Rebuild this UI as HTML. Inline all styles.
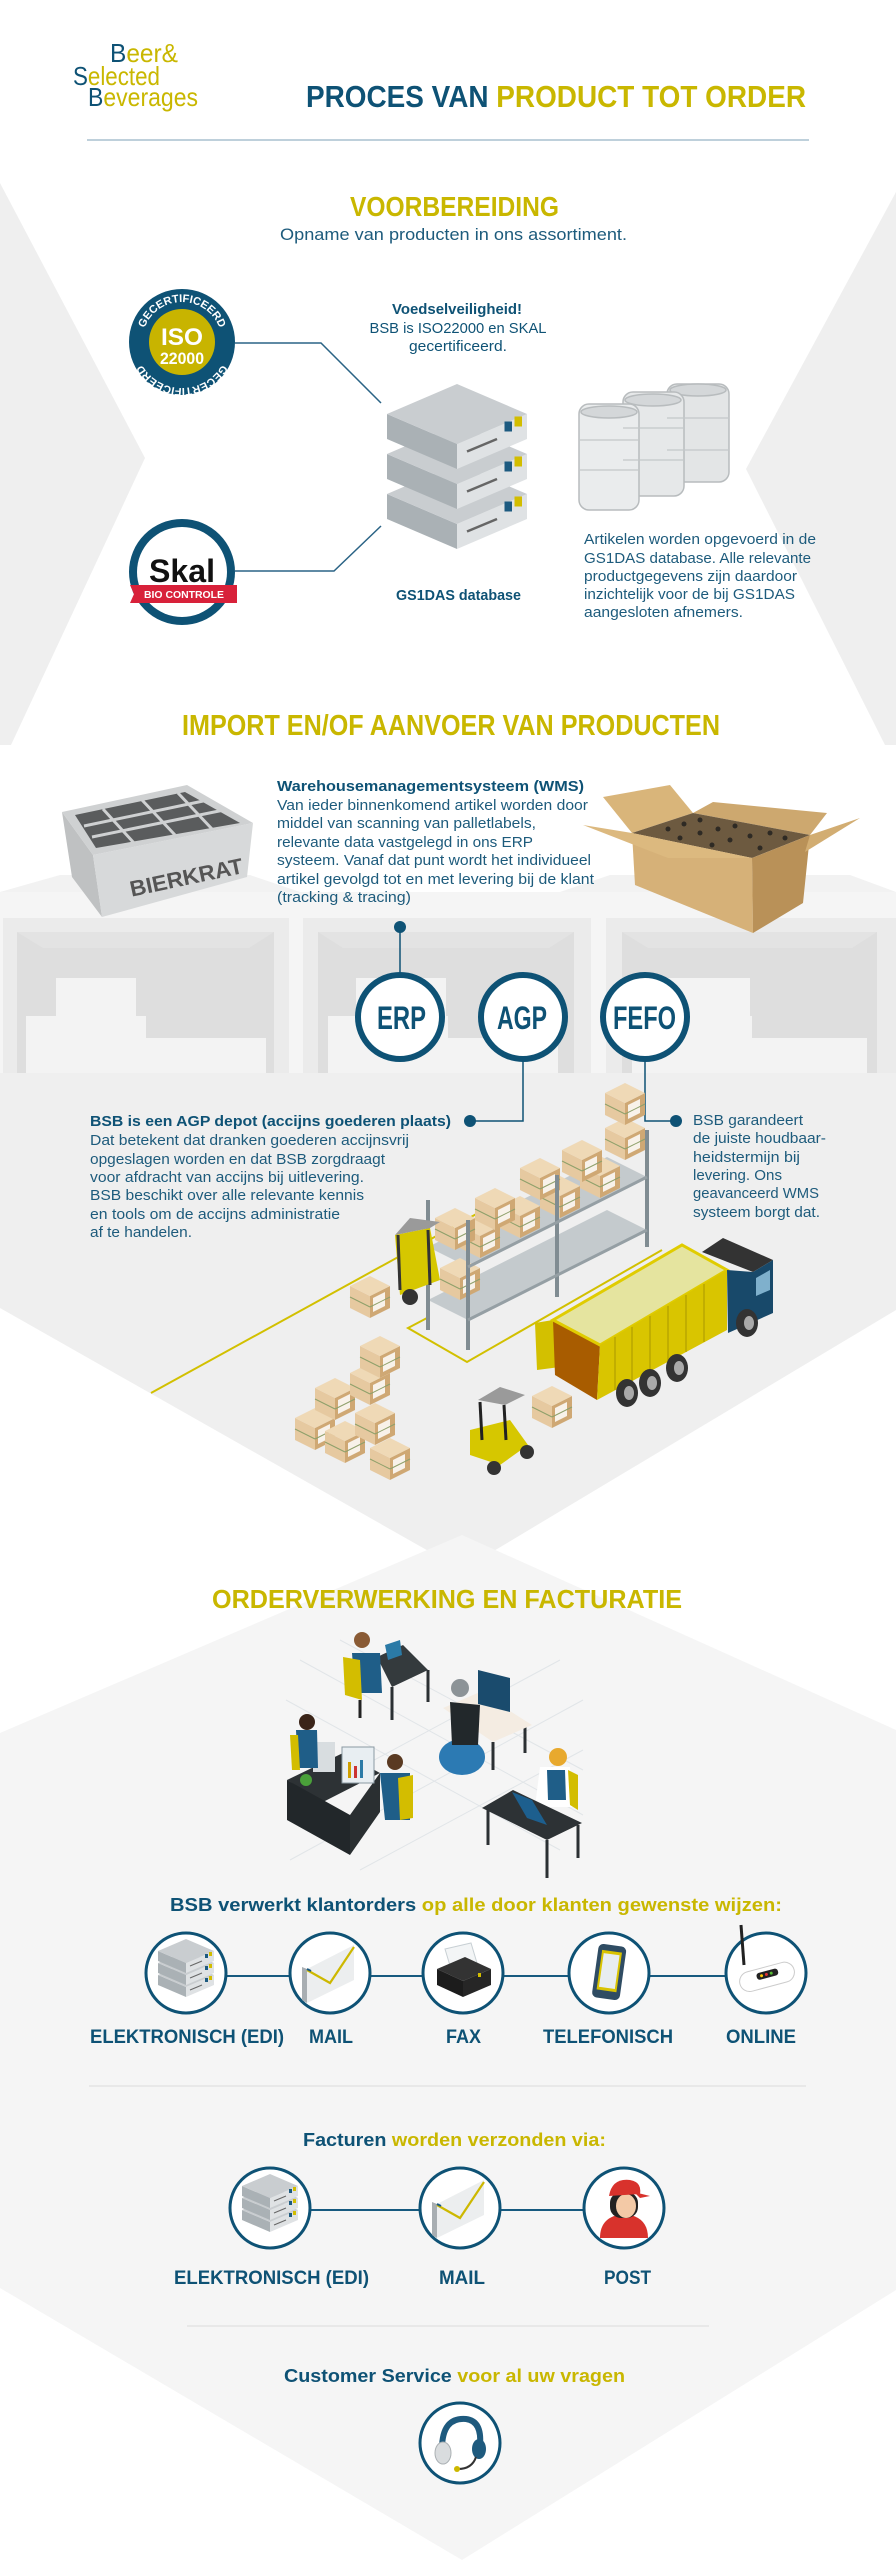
<!DOCTYPE html>
<html><head><meta charset="utf-8"><style>
html,body{margin:0;padding:0;background:#fff;}
svg{display:block;}
text{font-family:"Liberation Sans",sans-serif;}
</style></head><body>
<svg xmlns="http://www.w3.org/2000/svg" width="896" height="2560" viewBox="0 0 896 2560">
<defs>
<g id="box">
<polygon points="-20,-10 0,0 0,-22 -20,-32" fill="#e6c9a0"/>
<polygon points="0,0 20,-10 20,-32 0,-22" fill="#cfa874"/>
<polygon points="0,-22 -20,-32 0,-42 20,-32" fill="#efd9b6"/>
<polygon points="3,-6 15,-12 15,-26 3,-20" fill="#fff" opacity="0.85"/>
<line x1="-20" y1="-21" x2="0" y2="-11" stroke="#8ea06a" stroke-width="1"/>
<line x1="0" y1="-11" x2="20" y2="-21" stroke="#8ea06a" stroke-width="1"/>
</g>
<g id="slab">
<polygon points="-28,-18 0,-6 0,4 -28,-8" fill="#aab1b5"/>
<polygon points="0,-6 28,-18 28,-8 0,4" fill="#dfe2e4"/>
<polygon points="-28,-18 0,-30 28,-18 0,-6" fill="#c9cdd0"/>
<line x1="4" y1="-3" x2="16" y2="-8" stroke="#666" stroke-width="1"/>
<rect x="19" y="-15" width="3" height="4" fill="#1c5a80"/>
<rect x="23" y="-17" width="3" height="4" fill="#d2bd00"/>
</g>
<g id="srvS">
<use href="#slab" y="20"/><use href="#slab" y="8"/><use href="#slab" y="-4"/>
</g>
<g id="env">
<polygon points="-28,-8 -23,-6 -23,28 -28,25" fill="#a8aeb2"/>
<polygon points="-23,-6 24,-30 24,5 -23,28" fill="#eceeef"/>
<polyline points="-23,-5 0,8 24,-28" fill="none" stroke="#cdb800" stroke-width="2.2"/>
<line x1="-23" y1="-6" x2="-19" y2="-4" stroke="#1c5a80" stroke-width="2"/>
</g>
</defs>

<rect width="896" height="2560" fill="#fff"/>
<polygon points="0,183 145,458 11,745 0,745" fill="#efefef"/>
<polygon points="896,192 746,469 885,745 896,745" fill="#efefef"/>
<polygon points="0,892 60,875 250,875 300,892 560,892 610,875 850,875 896,892" fill="#f2f2f2"/>
<rect x="0" y="892" width="896" height="181" fill="#f5f5f5"/>
<g fill="#ebebeb"><rect x="3" y="918" width="286" height="155"/><rect x="303" y="918" width="288" height="155"/><rect x="606" y="918" width="290" height="155"/></g>
<g fill="#dedede"><rect x="17" y="932" width="257" height="141"/><rect x="318" y="932" width="256" height="141"/><rect x="622" y="932" width="255" height="141"/></g>
<g fill="#e3e3e3"><polygon points="17,932 43,948 249,948 274,932"/><polygon points="318,932 343,948 549,948 574,932"/><polygon points="622,932 648,948 852,948 877,932"/></g>
<g fill="#f3f3f3">
<rect x="56" y="978" width="80" height="95"/><rect x="26" y="1016" width="120" height="57"/><rect x="146" y="1038" width="120" height="35"/>
<rect x="356" y="978" width="90" height="95"/><rect x="328" y="1016" width="120" height="57"/><rect x="448" y="1038" width="110" height="35"/>
<rect x="660" y="978" width="90" height="95"/><rect x="632" y="1016" width="120" height="57"/><rect x="752" y="1038" width="115" height="35"/>
</g>
<polygon points="0,1073 896,1073 896,1310 462,1570 0,1308" fill="#efefef"/>
<polygon points="462,1535 896,1730 896,2290 462,2560 0,2288 0,1733" fill="#f5f5f5"/>

<text x="110" y="62" font-size="26" textLength="68" lengthAdjust="spacingAndGlyphs" fill="#c9b700"><tspan fill="#0e5275">B</tspan>eer&amp;</text>
<text x="73" y="85" font-size="26" textLength="87" lengthAdjust="spacingAndGlyphs" fill="#c9b700"><tspan fill="#0e5275">S</tspan>elected</text>
<text x="88" y="106" font-size="26" textLength="110" lengthAdjust="spacingAndGlyphs" fill="#c9b700"><tspan fill="#0e5275">B</tspan>everages</text>
<text x="306" y="107" font-size="31" font-weight="bold" textLength="500" lengthAdjust="spacingAndGlyphs" fill="#0e5275">PROCES VAN <tspan fill="#c9b700">PRODUCT TOT ORDER</tspan></text>
<line x1="87" y1="140" x2="809" y2="140" stroke="#a9c0cf" stroke-width="1.5"/>

<text x="350" y="216" font-size="28" font-weight="bold" textLength="209" lengthAdjust="spacingAndGlyphs" fill="#c9b700">VOORBEREIDING</text>
<text x="280" y="240" font-size="17" textLength="347" lengthAdjust="spacingAndGlyphs" fill="#1d5b7c">Opname van producten in ons assortiment.</text>

<polyline points="235,343 321,343 381,403" fill="none" stroke="#2a6385" stroke-width="1.5"/>
<polyline points="235,571 334,571 381,526" fill="none" stroke="#2a6385" stroke-width="1.5"/>

<circle cx="182" cy="342" r="53" fill="#0e5275"/>
<circle cx="182" cy="342" r="33" fill="#c8b400"/>
<path id="isoTop" d="M142,342 A40,40 0 0 1 222,342" fill="none"/>
<path id="isoBot" d="M228,342 A46,46 0 0 1 136,342" fill="none"/>
<text font-size="11" font-weight="bold" fill="#fff"><textPath href="#isoTop" startOffset="50%" text-anchor="middle">GECERTIFICEERD</textPath></text>
<text font-size="11" font-weight="bold" fill="#fff"><textPath href="#isoBot" startOffset="50%" text-anchor="middle">GECERTIFICEERD</textPath></text>
<text x="182" y="345" font-size="24" font-weight="bold" fill="#fff" text-anchor="middle" textLength="42" lengthAdjust="spacingAndGlyphs">ISO</text>
<text x="182" y="364" font-size="17" font-weight="bold" fill="#fff" text-anchor="middle" textLength="44" lengthAdjust="spacingAndGlyphs">22000</text>

<circle cx="182" cy="572" r="53" fill="#0e5275"/>
<circle cx="182" cy="572" r="45" fill="#fff"/>
<text x="182" y="582" font-size="32" font-weight="bold" fill="#111" text-anchor="middle" textLength="66" lengthAdjust="spacingAndGlyphs">Skal</text>
<polygon points="130,585 237,585 237,603 130,603 134,594" fill="#d8213a"/>
<text x="184" y="598" font-size="10" font-weight="bold" fill="#fff" text-anchor="middle" textLength="80" lengthAdjust="spacingAndGlyphs">BIO CONTROLE</text>

<text x="457" y="314" font-size="15" font-weight="bold" fill="#0e5275" text-anchor="middle" textLength="130" lengthAdjust="spacingAndGlyphs">Voedselveiligheid!</text>
<text x="458" y="333" font-size="15" fill="#0e5275" text-anchor="middle" textLength="177" lengthAdjust="spacingAndGlyphs">BSB is ISO22000 en SKAL</text>
<text x="458" y="351" font-size="15" fill="#0e5275" text-anchor="middle" textLength="98" lengthAdjust="spacingAndGlyphs">gecertificeerd.</text>

<g transform="translate(457,459) scale(2.5,2.5)">
<use href="#slab" y="32"/><use href="#slab" y="16"/><use href="#slab" y="0"/>
</g>
<text x="396" y="600" font-size="15" font-weight="bold" fill="#0e5275" textLength="125" lengthAdjust="spacingAndGlyphs">GS1DAS database</text>

<g stroke="#b8bcbe" stroke-width="1.5">
<rect x="667" y="384" width="62" height="98" rx="10" fill="#e3e5e6"/>
<ellipse cx="698" cy="390" rx="28" ry="6" fill="#d4d7d9"/>
<rect x="623" y="392" width="61" height="104" rx="10" fill="#e6e8e9"/>
<ellipse cx="653" cy="400" rx="28" ry="6" fill="#d4d7d9"/>
<rect x="579" y="404" width="60" height="106" rx="10" fill="#eaeced"/>
<ellipse cx="609" cy="412" rx="28" ry="6" fill="#d4d7d9"/>
</g>
<g stroke="#c3c7c9" stroke-width="1.2" fill="none">
<line x1="579" y1="440" x2="639" y2="440"/><line x1="579" y1="470" x2="639" y2="470"/>
<line x1="623" y1="428" x2="684" y2="428"/><line x1="623" y1="460" x2="684" y2="460"/>
<line x1="667" y1="418" x2="729" y2="418"/><line x1="667" y1="450" x2="729" y2="450"/>
</g>

<g font-size="15" fill="#1d5b7c">
<text x="584" y="544" textLength="232" lengthAdjust="spacingAndGlyphs">Artikelen worden opgevoerd in de</text>
<text x="584" y="563" textLength="227" lengthAdjust="spacingAndGlyphs">GS1DAS database. Alle relevante</text>
<text x="584" y="581" textLength="213" lengthAdjust="spacingAndGlyphs">productgegevens zijn daardoor</text>
<text x="584" y="599" textLength="211" lengthAdjust="spacingAndGlyphs">inzichtelijk voor de bij GS1DAS</text>
<text x="584" y="617" textLength="159" lengthAdjust="spacingAndGlyphs">aangesloten afnemers.</text>
</g>

<text x="182" y="735" font-size="29" font-weight="bold" textLength="538" lengthAdjust="spacingAndGlyphs" fill="#c9b700">IMPORT EN/OF AANVOER VAN PRODUCTEN</text>

<polygon points="62,812 93,855 102,917 72,877" fill="#bfc1c2"/>
<polygon points="93,855 253,823 247,877 102,917" fill="#d7d9da"/>
<polygon points="62,812 187,785 253,823 93,855" fill="#cfd1d2"/>
<polygon points="75,815 185,792 240,823 96,848" fill="#5a5c5d"/>
<g stroke="#cfd1d2" stroke-width="3">
<line x1="103" y1="809" x2="134" y2="843"/><line x1="142" y1="800" x2="175" y2="835"/><line x1="178" y1="793" x2="212" y2="829"/>
<line x1="84" y1="826" x2="208" y2="800"/><line x1="92" y1="837" x2="224" y2="810"/>
</g>
<text x="186" y="885" font-family="Liberation Serif,serif" font-size="22" font-weight="bold" fill="#555" text-anchor="middle" transform="rotate(-12 186 876)" textLength="115" lengthAdjust="spacingAndGlyphs">BIERKRAT</text>

<polygon points="603,797 670,785 693,813 632,833" fill="#d9b57a"/>
<polygon points="693,813 713,802 827,813 810,835" fill="#cda86f"/>
<polygon points="632,833 693,813 810,835 752,858" fill="#6d5a40"/>
<polygon points="632,833 752,858 753,933 635,885" fill="#d6b178"/>
<polygon points="752,858 810,835 803,903 753,933" fill="#b99158"/>
<polygon points="583,825 632,833 752,858 668,858" fill="#dcb97f"/>
<polygon points="810,835 860,818 805,852" fill="#d2ad72"/>
<g fill="#2e2a24"><circle cx="668" cy="829" r="2.5"/><circle cx="684" cy="824" r="2.5"/><circle cx="700" cy="820" r="2.5"/><circle cx="680" cy="838" r="2.5"/><circle cx="700" cy="833" r="2.5"/><circle cx="718" cy="829" r="2.5"/><circle cx="735" cy="826" r="2.5"/><circle cx="712" cy="845" r="2.5"/><circle cx="730" cy="840" r="2.5"/><circle cx="750" cy="836" r="2.5"/><circle cx="770" cy="833" r="2.5"/><circle cx="760" cy="848" r="2.5"/><circle cx="785" cy="838" r="2.5"/></g>

<g font-size="15" fill="#1d5b7c">
<text x="277" y="791" font-weight="bold" fill="#0e5275" textLength="307" lengthAdjust="spacingAndGlyphs">Warehousemanagementsysteem (WMS)</text>
<text x="277" y="810" textLength="311" lengthAdjust="spacingAndGlyphs">Van ieder binnenkomend artikel worden door</text>
<text x="277" y="828" textLength="259" lengthAdjust="spacingAndGlyphs">middel van scanning van palletlabels,</text>
<text x="277" y="847" textLength="256" lengthAdjust="spacingAndGlyphs">relevante data vastgelegd in ons ERP</text>
<text x="277" y="865" textLength="314" lengthAdjust="spacingAndGlyphs">systeem. Vanaf dat punt wordt het individueel</text>
<text x="277" y="884" textLength="317" lengthAdjust="spacingAndGlyphs">artikel gevolgd tot en met levering bij de klant</text>
<text x="277" y="902" textLength="134" lengthAdjust="spacingAndGlyphs">(tracking &amp; tracing)</text>
</g>

<circle cx="400" cy="927" r="6" fill="#0e5275"/>
<line x1="400" y1="927" x2="400" y2="975" stroke="#0e5275" stroke-width="1.5"/>
<polyline points="523,1060 523,1121 470,1121" fill="none" stroke="#0e5275" stroke-width="1.5"/>
<circle cx="470" cy="1121" r="6" fill="#0e5275"/>
<polyline points="645,1060 645,1121 676,1121" fill="none" stroke="#0e5275" stroke-width="1.5"/>
<circle cx="676" cy="1121" r="6" fill="#0e5275"/>
<g fill="#fff" stroke="#0e5275" stroke-width="6">
<circle cx="400" cy="1017" r="42"/><circle cx="523" cy="1017" r="42"/><circle cx="645" cy="1017" r="42"/>
</g>
<g font-size="32" font-weight="bold" fill="#0e5275">
<text x="377" y="1029" textLength="49" lengthAdjust="spacingAndGlyphs">ERP</text>
<text x="497" y="1029" textLength="50" lengthAdjust="spacingAndGlyphs">AGP</text>
<text x="613" y="1029" textLength="63" lengthAdjust="spacingAndGlyphs">FEFO</text>
</g>

<g font-size="15" fill="#1d5b7c">
<text x="90" y="1126" font-weight="bold" fill="#0e5275" textLength="361" lengthAdjust="spacingAndGlyphs">BSB is een AGP depot (accijns goederen plaats)</text>
<text x="90" y="1145" textLength="319" lengthAdjust="spacingAndGlyphs">Dat betekent dat dranken goederen accijnsvrij</text>
<text x="90" y="1164" textLength="295" lengthAdjust="spacingAndGlyphs">opgeslagen worden en dat BSB zorgdraagt</text>
<text x="90" y="1182" textLength="274" lengthAdjust="spacingAndGlyphs">voor afdracht van accijns bij uitlevering.</text>
<text x="90" y="1200" textLength="274" lengthAdjust="spacingAndGlyphs">BSB beschikt over alle relevante kennis</text>
<text x="90" y="1219" textLength="250" lengthAdjust="spacingAndGlyphs">en tools om de accijns administratie</text>
<text x="90" y="1237" textLength="102" lengthAdjust="spacingAndGlyphs">af te handelen.</text>
<text x="693" y="1125" textLength="110" lengthAdjust="spacingAndGlyphs">BSB garandeert</text>
<text x="693" y="1143" textLength="133" lengthAdjust="spacingAndGlyphs">de juiste houdbaar-</text>
<text x="693" y="1162" textLength="107" lengthAdjust="spacingAndGlyphs">heidstermijn bij</text>
<text x="693" y="1180" textLength="89" lengthAdjust="spacingAndGlyphs">levering. Ons</text>
<text x="693" y="1198" textLength="126" lengthAdjust="spacingAndGlyphs">geavanceerd WMS</text>
<text x="693" y="1217" textLength="127" lengthAdjust="spacingAndGlyphs">systeem borgt dat.</text>
</g>

<g fill="none" stroke="#d2c000" stroke-width="2">
<line x1="151" y1="1393" x2="480" y2="1212"/>
<polyline points="427,1318 408,1328 467,1362 662,1250"/>
</g>
<polygon points="428,1300 468,1320 647,1230 607,1210" fill="#c4cacd"/>
<polygon points="428,1247 468,1267 647,1177 607,1157" fill="#c4cacd"/>
<use href="#box" x="480" y="1258"/><use href="#box" x="520" y="1238"/><use href="#box" x="560" y="1218"/><use href="#box" x="600" y="1198"/><use href="#box" x="460" y="1300"/>
<use href="#box" x="455" y="1250"/><use href="#box" x="495" y="1230"/><use href="#box" x="540" y="1200"/><use href="#box" x="582" y="1182"/><use href="#box" x="625" y="1160"/><use href="#box" x="625" y="1125"/>
<g stroke="#808c92" stroke-width="4">
<line x1="428" y1="1200" x2="428" y2="1330"/><line x1="468" y1="1220" x2="468" y2="1350"/><line x1="557" y1="1175" x2="557" y2="1297"/><line x1="647" y1="1130" x2="647" y2="1247"/>
</g>
<g stroke="#959fa4" stroke-width="3"><line x1="468" y1="1320" x2="647" y2="1230"/><line x1="468" y1="1267" x2="647" y2="1177"/></g>

<polygon points="395,1235 430,1228 440,1280 400,1295" fill="#d6c700"/>
<polygon points="395,1235 410,1218 440,1222 430,1228" fill="#9a9a9a"/>
<line x1="398" y1="1235" x2="400" y2="1290" stroke="#333" stroke-width="3"/>
<line x1="428" y1="1230" x2="430" y2="1285" stroke="#333" stroke-width="3"/>
<circle cx="410" cy="1297" r="8" fill="#333"/>
<use href="#box" x="370" y="1318"/>

<polygon points="535,1323 553,1320 560,1367 537,1370" fill="#d3c000"/>
<polygon points="553,1320 600,1345 597,1400 555,1375" fill="#a85c00"/>
<polygon points="553,1320 682,1245 727,1270 600,1345" fill="#e5e49f" stroke="#e0cc00" stroke-width="3"/>
<polygon points="600,1345 727,1270 727,1330 597,1400" fill="#d9c500"/>
<g stroke="#b9a600" stroke-width="1.5">
<line x1="615" y1="1337" x2="615" y2="1390"/><line x1="632" y1="1327" x2="632" y2="1381"/><line x1="650" y1="1316" x2="650" y2="1371"/><line x1="668" y1="1306" x2="668" y2="1362"/><line x1="686" y1="1295" x2="686" y2="1352"/><line x1="704" y1="1284" x2="704" y2="1342"/>
</g>
<polygon points="702,1252 723,1238 773,1260 753,1272" fill="#333"/>
<polygon points="727,1270 753,1272 773,1260 773,1313 728,1333" fill="#18496a"/>
<polygon points="756,1278 770,1270 770,1290 756,1296" fill="#7fb0cc"/>
<g fill="#333"><ellipse cx="627" cy="1393" rx="11" ry="14"/><ellipse cx="650" cy="1383" rx="11" ry="14"/><ellipse cx="677" cy="1368" rx="11" ry="14"/><ellipse cx="747" cy="1323" rx="11" ry="14"/></g>
<g fill="#aaa"><ellipse cx="629" cy="1393" rx="5" ry="7"/><ellipse cx="652" cy="1383" rx="5" ry="7"/><ellipse cx="679" cy="1368" rx="5" ry="7"/><ellipse cx="749" cy="1323" rx="5" ry="7"/></g>

<polygon points="470,1430 510,1420 528,1445 500,1465 470,1455" fill="#d6c700"/>
<polygon points="478,1400 500,1387 525,1395 505,1405" fill="#9a9a9a"/>
<line x1="480" y1="1402" x2="482" y2="1440" stroke="#222" stroke-width="3"/>
<line x1="504" y1="1405" x2="506" y2="1440" stroke="#222" stroke-width="3"/>
<circle cx="494" cy="1468" r="7" fill="#333"/><circle cx="527" cy="1452" r="7" fill="#333"/>
<use href="#box" x="552" y="1428"/>

<use href="#box" x="315" y="1450"/><use href="#box" x="345" y="1463"/><use href="#box" x="375" y="1445"/><use href="#box" x="390" y="1480"/>
<use href="#box" x="335" y="1420"/><use href="#box" x="370" y="1405"/><use href="#box" x="380" y="1378"/>

<text x="212" y="1608" font-size="26" font-weight="bold" textLength="470" lengthAdjust="spacingAndGlyphs" fill="#c9b700">ORDERVERWERKING EN FACTURATIE</text>

<g stroke="#e1e5e8" stroke-width="1">
<line x1="286" y1="1700" x2="560" y2="1850"/><line x1="300" y1="1660" x2="583" y2="1815"/><line x1="340" y1="1640" x2="583" y2="1770"/>
<line x1="290" y1="1860" x2="583" y2="1700"/><line x1="300" y1="1800" x2="560" y2="1660"/><line x1="360" y1="1870" x2="583" y2="1750"/>
</g>
<g stroke="#2b3033" stroke-width="3"><line x1="392" y1="1687" x2="392" y2="1720"/><line x1="428" y1="1670" x2="428" y2="1702"/></g>
<polygon points="377,1657 403,1645 428,1670 392,1687" fill="#343a3d"/>
<polygon points="385,1645 400,1640 402,1655 388,1660" fill="#2b7aa6"/>
<polygon points="352,1653 380,1653 382,1693 355,1693" fill="#1f5e88"/>
<circle cx="362" cy="1640" r="8" fill="#8a5b35"/>
<polygon points="343,1657 360,1660 362,1700 345,1695" fill="#d3bd00"/>
<line x1="360" y1="1700" x2="360" y2="1718" stroke="#222" stroke-width="3"/>
<g stroke="#2b3033" stroke-width="3"><line x1="493" y1="1742" x2="493" y2="1770"/><line x1="525" y1="1727" x2="525" y2="1753"/></g>
<polygon points="443,1708 480,1692 532,1725 493,1742" fill="#f4ece2"/>
<polygon points="478,1670 510,1678 510,1712 478,1704" fill="#1a4b6d"/>
<ellipse cx="462" cy="1757" rx="23" ry="18" fill="#2c7ab3"/>
<polygon points="450,1702 480,1705 478,1745 452,1745" fill="#22282b"/>
<circle cx="460" cy="1688" r="9" fill="#8c9397"/>
<polygon points="287,1780 343,1753 380,1773 323,1802" fill="#2d3235"/>
<polygon points="287,1780 350,1815 350,1855 287,1820" fill="#22272a"/>
<polygon points="350,1815 380,1773 380,1812 350,1855" fill="#2a2f31"/>
<rect x="342" y="1747" width="32" height="36" fill="#e8eef2" stroke="#8a99a3"/>
<g fill="#d0a000"><rect x="348" y="1762" width="3" height="16"/><rect x="354" y="1766" width="3" height="12" fill="#c33"/><rect x="360" y="1760" width="3" height="18" fill="#2b7aa6"/></g>
<rect x="313" y="1742" width="22" height="30" fill="#d8dde0"/>
<circle cx="307" cy="1722" r="8" fill="#3a2418"/>
<polygon points="296,1730 317,1730 318,1768 298,1768" fill="#1f5e88"/>
<polygon points="290,1735 298,1735 300,1770 292,1770" fill="#d3bd00"/>
<circle cx="306" cy="1780" r="6" fill="#4aa13a"/>
<circle cx="395" cy="1762" r="8" fill="#5a3a22"/>
<polygon points="380,1773 410,1773 410,1820 385,1820" fill="#1f5e88"/>
<polygon points="398,1778 413,1775 413,1818 400,1820" fill="#d3bd00"/>
<g stroke="#2b3033" stroke-width="3"><line x1="488" y1="1810" x2="488" y2="1845"/><line x1="547" y1="1840" x2="547" y2="1878"/><line x1="578" y1="1825" x2="578" y2="1858"/></g>
<circle cx="558" cy="1757" r="9" fill="#e8a92e"/>
<polygon points="540,1767 570,1767 573,1807 535,1807" fill="#fff"/>
<polygon points="547,1770 565,1770 566,1800 548,1800" fill="#1f5e88"/>
<polygon points="568,1770 578,1775 578,1810 570,1805" fill="#d3bd00"/>
<polygon points="482,1808 513,1790 582,1823 547,1840" fill="#2d3235"/>
<polygon points="512,1792 532,1800 547,1825 527,1818" fill="#1d5f8e"/>

<text x="170" y="1911" font-size="18" font-weight="bold" textLength="612" lengthAdjust="spacingAndGlyphs" fill="#0e5275">BSB verwerkt klantorders <tspan fill="#c9b700">op alle door klanten gewenste wijzen:</tspan></text>

<g stroke="#175a7f" stroke-width="2">
<line x1="227" y1="1976" x2="289" y2="1976"/><line x1="371" y1="1976" x2="422" y2="1976"/><line x1="504" y1="1976" x2="568" y2="1976"/><line x1="650" y1="1976" x2="725" y2="1976"/>
<line x1="311" y1="2210" x2="419" y2="2210"/><line x1="501" y1="2210" x2="583" y2="2210"/>
</g>
<g fill="#fff" stroke="#0e5275" stroke-width="3">
<circle cx="186" cy="1973" r="40"/><circle cx="330" cy="1973" r="40"/><circle cx="463" cy="1973" r="40"/><circle cx="609" cy="1973" r="40"/><circle cx="766" cy="1973" r="40"/>
<circle cx="270" cy="2208" r="40"/><circle cx="460" cy="2208" r="40"/><circle cx="624" cy="2208" r="40"/>
<circle cx="460" cy="2443" r="40"/>
</g>
<use href="#srvS" x="186" y="1973"/>
<use href="#env" x="330" y="1975"/>
<g transform="translate(463,1975)">
<polygon points="-18,-26 8,-32 14,-12 -12,-6" fill="#f3f5f6" stroke="#c8d0d4"/>
<polygon points="-26,-6 2,-18 28,-6 0,6" fill="#333"/>
<polygon points="-26,-6 0,6 0,22 -26,10" fill="#1c1c1c"/>
<polygon points="0,6 28,-6 28,10 0,22" fill="#262626"/>
<rect x="15" y="-2" width="3" height="4" fill="#d2bd00"/>
</g>
<g transform="translate(609,1973) rotate(8)">
<rect x="-14" y="-28" width="28" height="54" rx="5" fill="#2f4c63"/>
<rect x="-10" y="-22" width="20" height="40" fill="#d9c300"/>
<rect x="-8" y="-19" width="16" height="34" fill="#e8edf0"/>
</g>
<g transform="translate(766,1973)">
<line x1="-22" y1="-8" x2="-25" y2="-48" stroke="#222" stroke-width="3"/>
<g transform="rotate(-15)"><rect x="-28" y="-6" width="56" height="20" rx="10" fill="#fff" stroke="#ccc"/><rect x="-10" y="-2" width="22" height="7" rx="3" fill="#222"/>
<circle cx="0" cy="1.5" r="1.5" fill="#d33"/><circle cx="5" cy="1.5" r="1.5" fill="#5b3"/><circle cx="-5" cy="1.5" r="1.5" fill="#fc0"/></g>
</g>
<g font-size="19" font-weight="bold" fill="#0e5275">
<text x="90" y="2043" textLength="194" lengthAdjust="spacingAndGlyphs">ELEKTRONISCH (EDI)</text>
<text x="309" y="2043" textLength="44" lengthAdjust="spacingAndGlyphs">MAIL</text>
<text x="446" y="2043" textLength="35" lengthAdjust="spacingAndGlyphs">FAX</text>
<text x="543" y="2043" textLength="130" lengthAdjust="spacingAndGlyphs">TELEFONISCH</text>
<text x="726" y="2043" textLength="70" lengthAdjust="spacingAndGlyphs">ONLINE</text>
</g>
<line x1="89" y1="2086" x2="806" y2="2086" stroke="#e8e8e8" stroke-width="2"/>

<text x="303" y="2146" font-size="18" font-weight="bold" textLength="303" lengthAdjust="spacingAndGlyphs" fill="#0e5275">Facturen <tspan fill="#c9b700">worden verzonden via:</tspan></text>
<use href="#srvS" x="270" y="2208"/>
<use href="#env" x="460" y="2210"/>
<g transform="translate(624,2208)">
<path d="M-24,30 Q-24,8 0,6 Q24,8 24,30 Z" fill="#d8322c"/>
<rect x="-14" y="-16" width="28" height="26" rx="11" fill="#222"/>
<ellipse cx="2" cy="-2" rx="10" ry="12" fill="#f3c9a6"/>
<path d="M-15,-12 Q-12,-30 6,-28 Q18,-26 16,-14 Z" fill="#d8322c"/>
<polygon points="10,-16 26,-12 16,-10" fill="#d8322c"/>
</g>
<g font-size="19" font-weight="bold" fill="#0e5275">
<text x="174" y="2284" textLength="195" lengthAdjust="spacingAndGlyphs">ELEKTRONISCH (EDI)</text>
<text x="439" y="2284" textLength="46" lengthAdjust="spacingAndGlyphs">MAIL</text>
<text x="604" y="2284" textLength="47" lengthAdjust="spacingAndGlyphs">POST</text>
</g>
<line x1="187" y1="2326" x2="709" y2="2326" stroke="#e8e8e8" stroke-width="2"/>

<text x="284" y="2382" font-size="18" font-weight="bold" textLength="341" lengthAdjust="spacingAndGlyphs" fill="#0e5275">Customer Service <tspan fill="#c9b700">voor al uw vragen</tspan></text>
<g transform="translate(460,2443)">
<path d="M-18,6 Q-18,-26 6,-24 Q22,-22 20,2" fill="none" stroke="#1e5a7e" stroke-width="6"/>
<ellipse cx="-17" cy="10" rx="8" ry="11" fill="#d9dcde" stroke="#aab0b3"/>
<ellipse cx="19" cy="6" rx="7" ry="10" fill="#1e5a7e"/>
<path d="M16,14 Q12,26 -2,26" fill="none" stroke="#333" stroke-width="2"/>
<circle cx="-3" cy="26" r="3" fill="#cdb800"/>
</g>
</svg>
</body></html>
